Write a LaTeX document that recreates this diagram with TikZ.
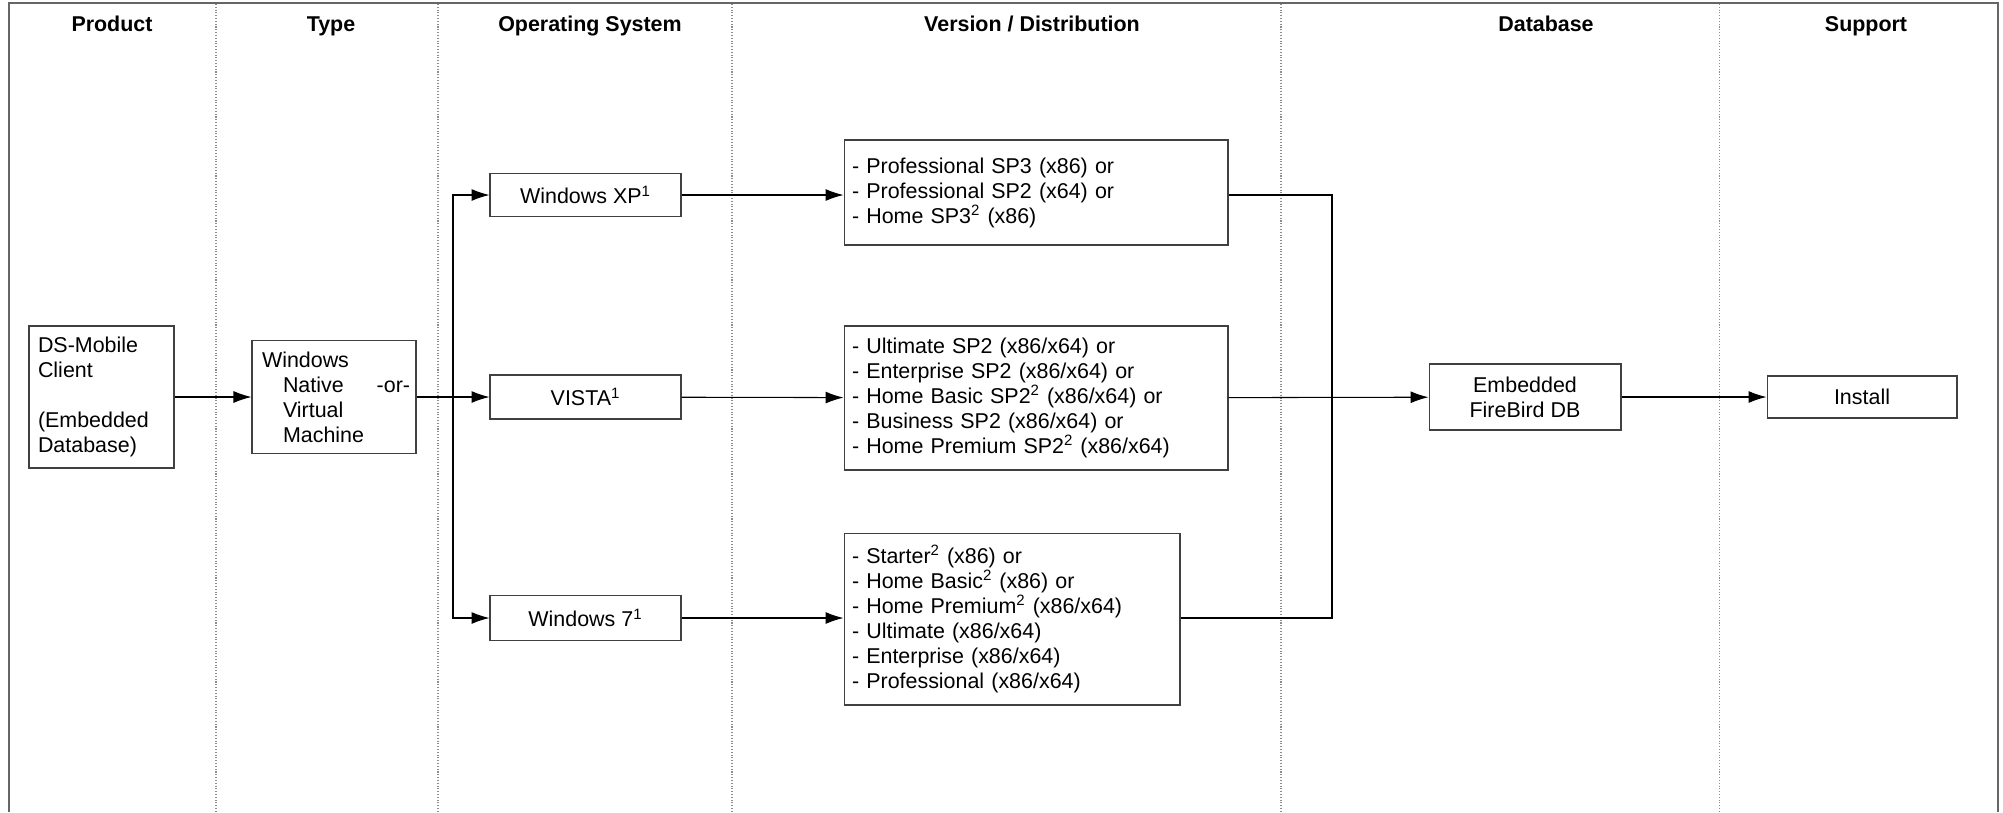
\documentclass[tikz,border=0pt]{standalone}
\usepackage{fontspec}
\setmainfont{Liberation Sans}
\usetikzlibrary{arrows.meta}

\begin{document}
\begin{tikzpicture}[x=0.02cm, y=-0.02cm,
		font=\fontsize{12.2}{14.2}\selectfont,
		box/.style={draw=black!75, line width=0.6pt, inner sep=0pt},
		lbox/.style={box, align=left},
		head/.style={anchor=base, font=\fontsize{12.2}{14.2}\selectfont\bfseries},
		lane/.style={draw=black!45, densely dotted, line width=0.6pt},
		arr/.style={-{Latex[length=3.6mm,width=2.4mm]}, line width=0.6pt}]
		%%%%% START %%%%%
		\useasboundingbox (0,0) rectangle (2003,812);
		
		\draw[draw=black!60, line width=0.8pt] (9,812) -- (9,3) -- (1998,3) -- (1998,812);
		\foreach \x in {216,438,732,1281,1719}
			\draw[lane] (\x,4) -- (\x,812);
		
		\node[head] (hprod) at (112,31) {Product};
		\node[head] (htype) at (331,31) {Type};
		\node[head] (hos) at (590,31) {Operating System};
		\node[head] (hver) at (1032,31) {Version / Distribution};
		\node[head] (hdb) at (1546,31) {Database};
		\node[head] (hsup) at (1866,31) {Support};
		
		\node[lbox, minimum width=2.9cm, minimum height=2.84cm, text width=2.54cm] (client) at (101.5,397)
			{DS-Mobile\\Client\\[14.2pt](Embedded\\Database)};
		\node[lbox, minimum width=3.28cm, minimum height=2.26cm, text width=2.88cm] (wintype) at (334,397)
			{Windows\\\hspace*{0.42cm}\mbox{Native\hspace{0.66cm}-or-}\\\hspace*{0.42cm}Virtual\\\hspace*{0.42cm}Machine};
		
		\node[box, minimum width=3.82cm, minimum height=0.86cm] (xp) at (585.5,195) {Windows XP\textsuperscript{1}};
		\node[box, minimum width=3.82cm, minimum height=0.88cm] (vista) at (585.5,397) {VISTA\textsuperscript{1}};
		\node[box, minimum width=3.82cm, minimum height=0.9cm] (seven) at (585.5,618) {Windows 7\textsuperscript{1}};
		
		\node[lbox, minimum width=7.68cm, minimum height=2.1cm, text width=7.36cm] (xpver) at (1036,192.5)
			{- Professional SP3 (x86) or\\- Professional SP2 (x64) or\\- Home SP3\textsuperscript{2} (x86)};
		\node[lbox, minimum width=7.68cm, minimum height=2.88cm, text width=7.36cm] (vistaver) at (1036,398)
			{- Ultimate SP2 (x86/x64) or\\- Enterprise SP2 (x86/x64) or\\- Home Basic SP2\textsuperscript{2} (x86/x64) or\\- Business SP2 (x86/x64) or\\- Home Premium SP2\textsuperscript{2} (x86/x64)};
		\node[lbox, minimum width=6.72cm, minimum height=3.44cm, text width=6.4cm] (sevenver) at (1012,619)
			{- Starter\textsuperscript{2} (x86) or\\- Home Basic\textsuperscript{2} (x86) or\\- Home Premium\textsuperscript{2} (x86/x64)\\- Ultimate (x86/x64)\\- Enterprise (x86/x64)\\- Professional (x86/x64)};
		
		\node[box, align=center, minimum width=3.84cm, minimum height=1.32cm] (firebird) at (1525,397) {Embedded\\FireBird DB};
		\node[box, minimum width=3.8cm, minimum height=0.84cm] (install) at (1862,397) {Install};
		
		\coordinate (split) at (453,397);
		\coordinate (join) at (1332,397);
		
		\draw[arr] (client) -- (wintype);
		\draw[arr] (wintype) -- (vista);
		\draw[arr] (split) |- (xp);
		\draw[arr] (split) |- (seven);
		\draw[arr] (xp) -- (xp -| xpver.west);
		\draw[arr] (vista) -- (vistaver);
		\draw[arr] (seven) -- (seven -| sevenver.west);
		\draw[line width=0.6pt] (xpver.east |- xp) -| (join) |- (sevenver.east |- seven);
		\draw[arr] (vistaver) -- (firebird);
		\draw[arr] (firebird) -- (install);
		%%%%% END %%%%%
\end{tikzpicture}
\end{document}
